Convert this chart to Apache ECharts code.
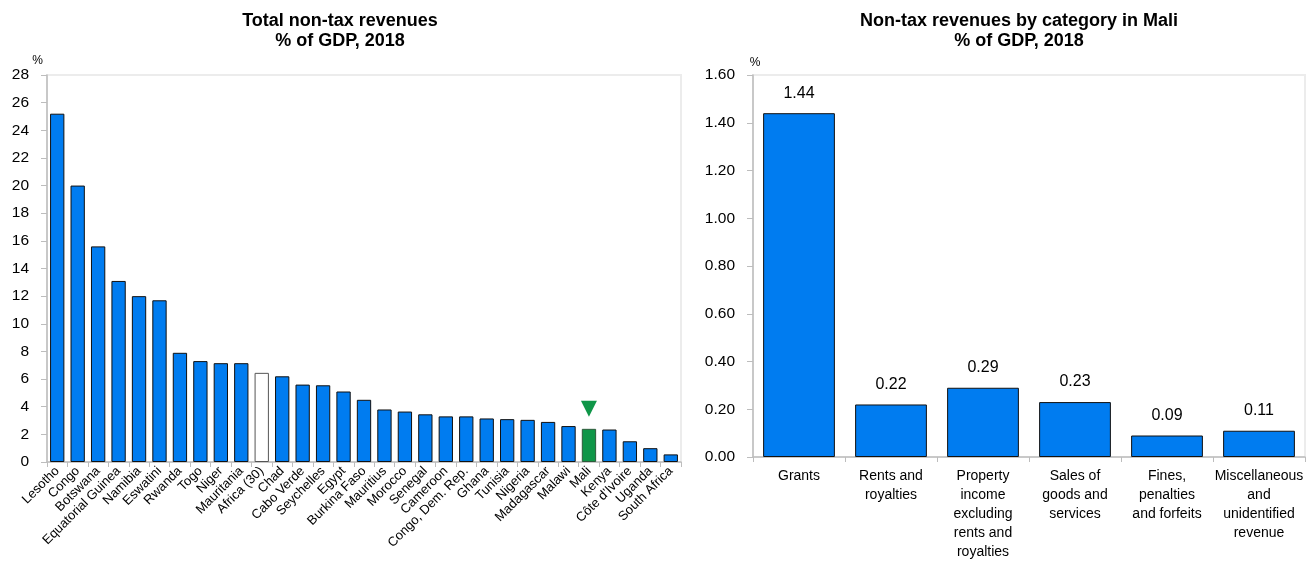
<!DOCTYPE html>
<html>
<head>
<meta charset="utf-8">
<script src="https://cdn.jsdelivr.net/npm/echarts@6/dist/echarts.min.js"></script>
<style>
  html, body { margin: 0; padding: 0; background: #fff; }
  #chart { width: 1314px; height: 562px; }
</style>
</head>
<body>
<div id="chart"></div>
<script>
// total non-tax revenues, % of GDP 2018
const countries = ['Lesotho', 'Congo', 'Botswana', 'Equatorial Guinea', 'Namibia', 'Eswatini', 'Rwanda', 'Togo', 'Niger', 'Mauritania',
  'Africa (30)', 'Chad', 'Cabo Verde', 'Seychelles', 'Egypt', 'Burkina Faso', 'Mauritius', 'Morocco', 'Senegal', 'Cameroon',
  'Congo, Dem. Rep.', 'Ghana', 'Tunisia', 'Nigeria', 'Madagascar', 'Malawi', 'Mali', 'Kenya', "Côte d'Ivoire", 'Uganda', 'South Africa']
const totalValues = [25.2, 20.0, 15.6, 13.1, 12.0, 11.7, 7.9, 7.3, 7.15, 7.15,
  6.45, 6.2, 5.6, 5.55, 5.1, 4.5, 3.8, 3.65, 3.45, 3.3,
  3.3, 3.15, 3.1, 3.05, 2.9, 2.6, 2.4, 2.35, 1.5, 1.0, 0.55]
const maliMarker = 3.85

// Mali non-tax revenues by category
const maliCategories = ['Grants', 'Rents and\nroyalties', 'Property\nincome\nexcluding\nrents and\nroyalties',
  'Sales of\ngoods and\nservices', 'Fines,\npenalties\nand forfeits', 'Miscellaneous\nand\nunidentified\nrevenue']
const maliValues = [1.44, 0.22, 0.29, 0.23, 0.09, 0.11]

const leftTicks = { min: 0, max: 28, interval: 2 }
const rightTicks = { min: 0, max: 1.6, interval: 0.2 }

const BLUE = '#007cf0'
const GREEN = '#0f9648'
const FONT = "'Liberation Sans', Arial"

const chart = echarts.init(document.getElementById('chart'))

const axisGray = { lineStyle: { color: '#bdbdbd', width: 1.5 } }
const tickGray = { show: true, length: 6, lineStyle: { color: '#bdbdbd' } }

const barData = countries.map((c, i) => {
  let style = { color: BLUE, borderColor: '#111', borderWidth: 1 }
  if (c === 'Africa (30)') style = { color: '#fff', borderColor: '#555', borderWidth: 1 }
  if (c === 'Mali') style = { color: GREEN, borderColor: '#2d5a3a', borderWidth: 1 }
  return { value: totalValues[i], itemStyle: style }
})

chart.setOption({
  animation: false,
  textStyle: { fontFamily: FONT },
  title: [
    {
      text: 'Total non-tax revenues\n% of GDP, 2018',
      left: 335, top: 6, textAlign: 'center',
      textStyle: { fontFamily: FONT, fontSize: 18, fontWeight: 'bold', color: '#000', lineHeight: 20 },
    },
    {
      text: 'Non-tax revenues by category in Mali\n% of GDP, 2018',
      left: 1014, top: 6, textAlign: 'center',
      textStyle: { fontFamily: FONT, fontSize: 18, fontWeight: 'bold', color: '#000', lineHeight: 20 },
    },
  ],
  grid: [
    { left: 47, right: 633, top: 75, bottom: 100, show: true, borderColor: '#ececec', borderWidth: 2 },
    { left: 753, right: 9, top: 75, bottom: 100, show: true, borderColor: '#ececec', borderWidth: 2 },
  ],
  xAxis: [
    {
      type: 'category', gridIndex: 0, data: countries,
      axisLine: axisGray,
      axisTick: { ...tickGray, length: 5 },
      axisLabel: { interval: 0, rotate: 45, fontSize: 13, color: '#000', margin: 7, fontFamily: FONT },
    },
    {
      type: 'category', gridIndex: 1, data: maliCategories,
      axisLine: axisGray,
      axisTick: { ...tickGray, length: 5 },
      axisLabel: { interval: 0, fontSize: 14, lineHeight: 19, color: '#000', margin: 10, fontFamily: FONT },
    },
  ],
  yAxis: [
    {
      type: 'value', gridIndex: 0, min: leftTicks.min, max: leftTicks.max, interval: leftTicks.interval,
      name: '%', nameLocation: 'end', nameGap: 6,
      nameTextStyle: { fontSize: 12, color: '#000', align: 'right', padding: [0, 4, 0, 0], fontFamily: FONT },
      axisLine: { show: true, ...axisGray },
      axisTick: tickGray,
      splitLine: { show: false },
      axisLabel: { fontSize: 15.5, color: '#000', margin: 18, fontFamily: FONT },
    },
    {
      type: 'value', gridIndex: 1, min: rightTicks.min, max: rightTicks.max, interval: rightTicks.interval,
      name: '%', nameLocation: 'end', nameGap: 6,
      nameTextStyle: { fontSize: 12, color: '#000', align: 'center', padding: [0, 0, 0, 4], fontFamily: FONT },
      axisLine: { show: true, ...axisGray },
      axisTick: tickGray,
      splitLine: { show: false },
      axisLabel: { fontSize: 15.5, color: '#000', margin: 18, fontFamily: FONT, formatter: v => v.toFixed(2) },
    },
  ],
  series: [
    {
      type: 'bar', xAxisIndex: 0, yAxisIndex: 0,
      data: barData,
      barCategoryGap: '30%',
    },
    {
      type: 'scatter', xAxisIndex: 0, yAxisIndex: 0,
      data: [['Mali', maliMarker]],
      symbol: 'triangle', symbolRotate: 180, symbolSize: [16, 16],
      itemStyle: { color: GREEN, opacity: 1 },
    },
    {
      type: 'bar', xAxisIndex: 1, yAxisIndex: 1,
      data: maliValues,
      barCategoryGap: '22%',
      itemStyle: { color: BLUE, borderColor: '#111', borderWidth: 1 },
      label: {
        show: true, position: 'top', distance: 12,
        fontSize: 16, color: '#000', fontFamily: FONT,
        formatter: p => p.value.toFixed(2),
      },
    },
  ],
})
</script>
</body>
</html>
